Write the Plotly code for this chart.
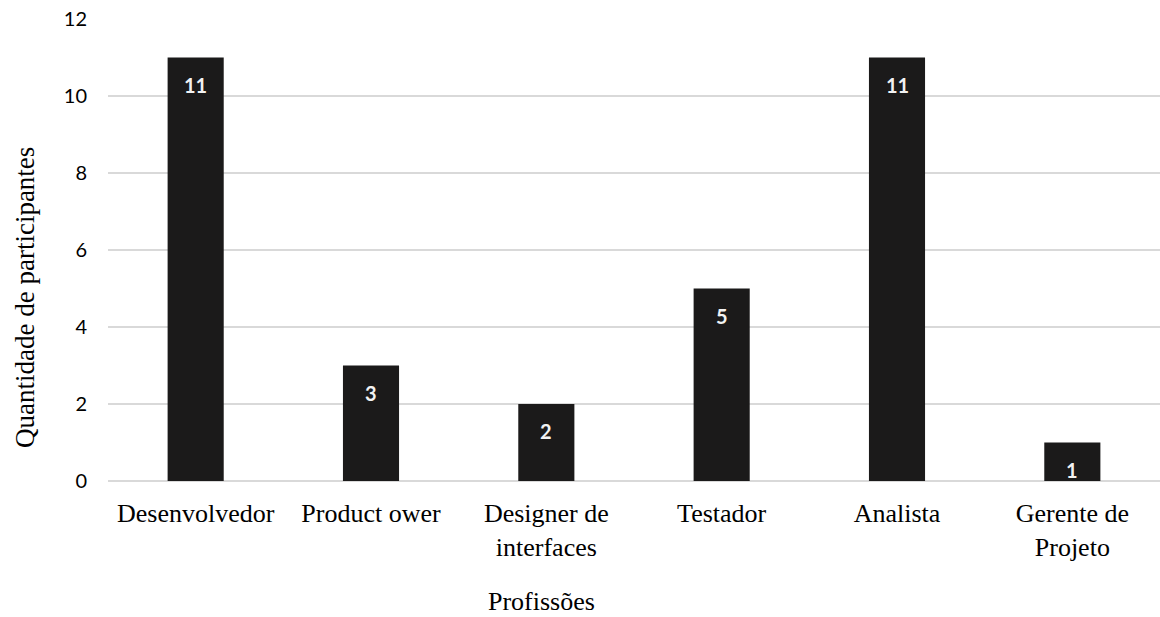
import plotly.graph_objects as go

# Number of participants per profession
professions = ["Desenvolvedor", "Product ower", "Designer de<br>interfaces",
               "Testador", "Analista", "Gerente de<br>Projeto"]
participants = [11, 3, 2, 5, 11, 1]
y_ticks = [0, 2, 4, 6, 8, 10, 12]

bar_color = "#1b1a1a"
grid_color = "#d9d9d9"
serif = "Liberation Serif, Times New Roman, serif"
sans = "Lato, Open Sans, sans-serif"

fig = go.Figure()
fig.add_trace(go.Bar(
    x=professions,
    y=participants,
    marker=dict(color=bar_color, line=dict(width=0)),
    width=0.32,
    hoverinfo="x+y",
))

# value labels just inside the top of each bar
for cat, val in zip(professions, participants):
    fig.add_annotation(
        x=cat, y=val, text=f"<b>{val}</b>", showarrow=False,
        yshift=-27, font=dict(family=sans, size=20, color="#f2f2f2"),
    )

fig.add_annotation(
    text="Quantidade de participantes", xref="paper", yref="paper",
    x=-0.079, y=0.398, xanchor="center", yanchor="middle", textangle=-90,
    showarrow=False, font=dict(family=serif, size=27, color="#000000"),
)
fig.add_annotation(
    text="Profissões", xref="paper", yref="paper",
    x=0.4125, y=-0.26, xanchor="center", yanchor="middle",
    showarrow=False, font=dict(family=serif, size=26, color="#000000"),
)

fig.update_layout(
    width=1160, height=617,
    margin=dict(l=108, r=0, t=19, b=136),
    paper_bgcolor="white", plot_bgcolor="white",
    showlegend=False,
)
fig.update_xaxes(
    tickfont=dict(family=serif, size=26, color="#000000"),
    showgrid=False, showline=False, ticks="", ticklabelstandoff=14,
)
fig.update_yaxes(
    range=[0, 12], tickvals=y_ticks,
    tickfont=dict(family=sans, size=20, color="#000000"),
    showgrid=True, gridcolor=grid_color, gridwidth=1.5,
    zeroline=True, zerolinecolor=grid_color, zerolinewidth=1.5,
    showline=False, ticks="", ticklabelstandoff=20,
)

fig.write_html("out.html")
